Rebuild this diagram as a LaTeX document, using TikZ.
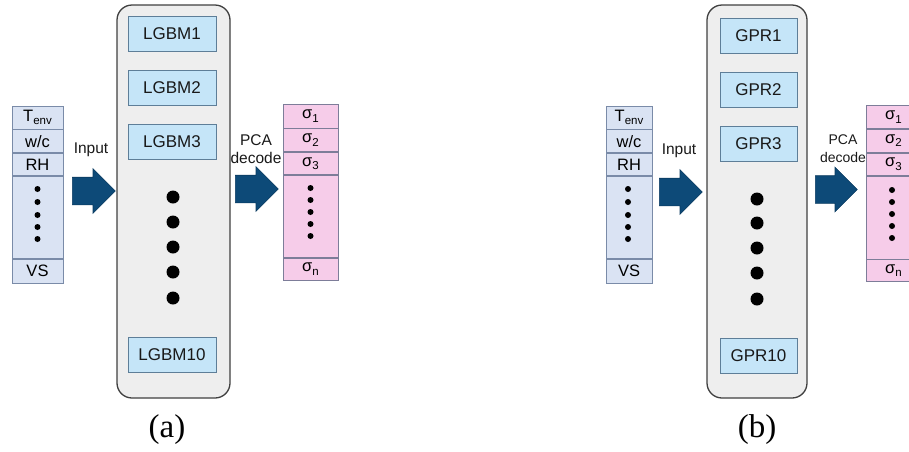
\documentclass[tikz,border=0pt]{standalone}
\usepackage{fontspec}
\setmainfont{Liberation Sans}
\newfontfamily\capfont{Liberation Serif}
\usetikzlibrary{shapes.arrows,positioning}
\definecolor{inblue}   {HTML}{DAE3F3}
\definecolor{inedge}   {HTML}{7A8BA8}
\definecolor{mdlblue}  {HTML}{C5E5F8}
\definecolor{mdledge}  {HTML}{5E7E98}
\definecolor{outpink}  {HTML}{F6CCE9}
\definecolor{outedge}  {HTML}{7D7D99}
\definecolor{panelgray}{HTML}{EEEEEE}
\definecolor{arrblue}  {HTML}{0D4A78}
\newcommand\lowidx[1]{\raisebox{-0.4ex}{\fontsize{11.5}{12}\selectfont #1}}

\begin{document}
\begin{tikzpicture}[x=1pt,y=-1pt,
  incell/.style={draw=inedge,fill=inblue,line width=0.8pt,inner sep=0pt,
                 font=\fontsize{16.5}{18}\selectfont},
  outcell/.style={incell,draw=outedge,fill=outpink,minimum width=55pt},
  mdl/.style={draw=mdledge,fill=mdlblue,line width=0.8pt,minimum height=35pt,
              inner sep=0pt,font=\fontsize{17}{19}\selectfont,text=black!90},
  panel/.style={draw=black!75,fill=panelgray,line width=1.3pt,rounded corners=15pt,
                minimum height=393pt,inner sep=0pt},
  bigarr/.style={single arrow,draw=arrblue!80!black,fill=arrblue,line width=0.6pt,
                 minimum height=43pt,inner xsep=0pt,inner ysep=13.5pt,anchor=tail,
                 single arrow head extend=8.5pt,single arrow tip angle=90},
  lbl/.style={font=\fontsize{15.5}{18}\selectfont,align=center,text=black!90},
  captxt/.style={font=\capfont\fontsize{33}{36}\selectfont}
]
\useasboundingbox (0,0) rectangle (909,451);
\clip (0,0) rectangle (909,451);

% (a) LGBM
\node[incell,minimum width=51pt,minimum height=23pt] (tenvA) at (37.5,117.5) {T\lowidx{env}};
\node[incell,minimum width=51pt,minimum height=23pt,below=0pt of tenvA] (wcA) {w/c};
\node[incell,minimum width=51pt,minimum height=22pt,below=0pt of wcA] (rhA) {RH};
\node[incell,minimum width=51pt,minimum height=82pt,below=0pt of rhA] (indotsA) {};
\node[incell,minimum width=51pt,minimum height=24pt,below=0pt of indotsA] (vsA) {VS};
\foreach \y in {189,202,215,227,239} \fill (37.5,\y) circle (3pt);

\node[lbl] (inlblA) at (91,150) {Input};
\node[bigarr] (arrinA) at (72,191) {};

\node[panel,minimum width=113pt] (boxA) at (173.5,201.5) {};
\node[mdl,minimum width=88pt] (lgbm1) at (172,33.5) {LGBM1};
\node[mdl,minimum width=88pt] (lgbm2) at (172,87.5) {LGBM2};
\node[mdl,minimum width=88pt] (lgbm3) at (172,141.5) {LGBM3};
\node[mdl,minimum width=88pt] (lgbm10) at (172,354.5) {LGBM10};
\foreach \y in {197,222,247,272,298} \fill (173,\y) circle (6.5pt);

\node[lbl] (pcalblA) at (256,149) {PCA\\decode};
\node[bigarr] (arroutA) at (235,189) {};

\node[outcell,minimum height=24pt] (s1A) at (310.5,116) {σ\lowidx{1}};
\node[outcell,minimum height=23pt,below=0pt of s1A] (s2A) {σ\lowidx{2}};
\node[outcell,minimum height=22pt,below=0pt of s2A] (s3A) {σ\lowidx{3}};
\node[outcell,minimum height=82pt,below=0pt of s3A] (outdotsA) {};
\node[outcell,minimum height=22pt,below=0pt of outdotsA] (snA) {σ\lowidx{n}};
\foreach \y in {188,200,212,224,236} \fill (310.5,\y) circle (3pt);

\node[captxt] (capA) at (167,430) {(a)};

% (b) GPR
\node[incell,minimum width=46pt,minimum height=23pt] (tenvB) at (629,117.5) {T\lowidx{env}};
\node[incell,minimum width=46pt,minimum height=23pt,below=0pt of tenvB] (wcB) {w/c};
\node[incell,minimum width=46pt,minimum height=22pt,below=0pt of wcB] (rhB) {RH};
\node[incell,minimum width=46pt,minimum height=82pt,below=0pt of rhB] (indotsB) {};
\node[incell,minimum width=46pt,minimum height=24pt,below=0pt of indotsB] (vsB) {VS};
\foreach \y in {189,202,215,227,239} \fill (628,\y) circle (3pt);

\node[lbl] (inlblB) at (679,151) {Input};
\node[bigarr] (arrinB) at (659,192) {};

\node[panel,minimum width=100pt] (boxB) at (757,201.5) {};
\node[mdl,minimum width=77pt] (gpr1) at (758.5,35.5) {GPR1};
\node[mdl,minimum width=77pt] (gpr2) at (758.5,90) {GPR2};
\node[mdl,minimum width=77pt] (gpr3) at (758.5,143.5) {GPR3};
\node[mdl,minimum width=77pt] (gpr10) at (758.5,355.5) {GPR10};
\foreach \y in {199,223,248,273,299} \fill (757,\y) circle (6.5pt);

\node[lbl,font=\fontsize{14}{18}\selectfont] (pcalblB) at (843,149) {PCA\\decode};
\node[bigarr,minimum height=42pt] (arroutB) at (815,189.5) {};

\node[outcell,minimum height=23pt] (s1B) at (893.5,117) {σ\lowidx{1}};
\node[outcell,minimum height=23pt,below=0pt of s1B] (s2B) {σ\lowidx{2}};
\node[outcell,minimum height=22pt,below=0pt of s2B] (s3B) {σ\lowidx{3}};
\node[outcell,minimum height=83pt,below=0pt of s3B] (outdotsB) {};
\node[outcell,minimum height=22pt,below=0pt of outdotsB] (snB) {σ\lowidx{n}};
\foreach \y in {190,202,214,226,238} \fill (892,\y) circle (3pt);

\node[captxt] (capB) at (757,430) {(b)};
\end{tikzpicture}
\end{document}
